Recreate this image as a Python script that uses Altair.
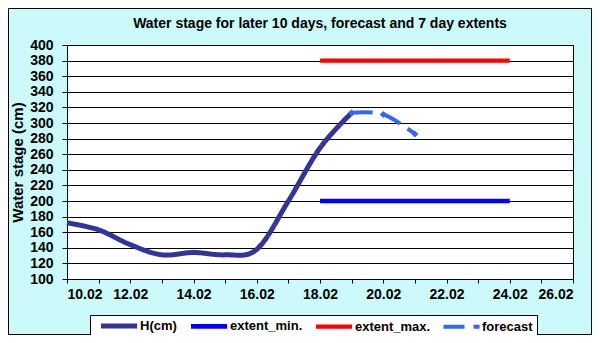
import altair as alt
import pandas as pd

# ---- data ----
series_names = ["H(cm)", "extent_min.", "extent_max.", "forecast"]
series_colors = ["#333399", "#0000FF", "#FF0000", "#3366FF"]

h_days = [10, 11, 12, 13, 14, 15, 16, 17, 18, 19]
h_vals = [172, 163, 144, 131, 134, 131, 138, 200, 268, 313]

ext_days = [18, 24]
ext_min_vals = [200, 200]
ext_max_vals = [380, 380]

fc_days = [19, 20, 21]
fc_vals = [313, 311, 286]

y_ticks = [100, 120, 140, 160, 180, 200, 220, 240, 260, 280, 300, 320, 340, 360, 380, 400]
x_ticks = [10, 11, 12, 13, 14, 15, 16, 17, 18, 19, 20, 21, 22, 23, 24, 25, 26]

FONT = "Liberation Sans"

rows = []
for d, v in zip(h_days, h_vals):
    rows.append({"day": d, "value": v, "series": "H(cm)"})
for d, v in zip(ext_days, ext_min_vals):
    rows.append({"day": d, "value": v, "series": "extent_min."})
for d, v in zip(ext_days, ext_max_vals):
    rows.append({"day": d, "value": v, "series": "extent_max."})
for d, v in zip(fc_days, fc_vals):
    rows.append({"day": d, "value": v, "series": "forecast"})
df = pd.DataFrame(rows)

x_enc = alt.X(
    "day:Q",
    scale=alt.Scale(domain=[10, 26], nice=False, zero=False),
    axis=alt.Axis(
        values=x_ticks,
        tickCount=17,
        labelExpr="datum.value % 2 == 0 ? datum.value + '.02' : ''",
        labelOverlap=False,
        title=None,
        grid=False,
        tickSize=4,
        labelPadding=4,
        tickColor="black",
        domainColor="black",
        labelFont=FONT,
        labelFontSize=14,
        labelFontWeight="bold",
        labelColor="black",
    ),
)
y_enc = alt.Y(
    "value:Q",
    scale=alt.Scale(domain=[100, 400], nice=False, zero=False),
    axis=alt.Axis(
        values=y_ticks,
        tickCount=16,
        labelOverlap=False,
        title="Water stage (cm)",
        titleFont=FONT,
        titleFontSize=15,
        titleFontWeight="bold",
        titleColor="black",
        titlePadding=4,
        grid=True,
        gridColor="black",
        gridOpacity=1,
        gridWidth=1,
        tickSize=5,
        tickColor="black",
        domainColor="black",
        labelPadding=9,
        labelFont=FONT,
        labelFontSize=14,
        labelFontWeight="bold",
        labelColor="black",
    ),
)

base = alt.Chart(df).encode(x=x_enc, y=y_enc)

lines = base.mark_line(interpolate="cardinal", tension=0, strokeCap="butt").encode(
    color=alt.Color(
        "series:N",
        scale=alt.Scale(domain=series_names, range=series_colors),
        legend=alt.Legend(
            title=None,
            orient="none",
            legendX=23,
            legendY=270,
            direction="horizontal",
            fillColor="white",
            strokeColor="black",
            padding=4,
            symbolType="M0,0H8",
            symbolSize=81,
            columnPadding=4,
            labelOffset=32,
            labelFont=FONT,
            labelFontSize=13,
            labelFontWeight="bold",
            labelColor="black",
        ),
    ),
    strokeDash=alt.StrokeDash(
        "series:N",
        scale=alt.Scale(domain=series_names, range=[[1, 0], [1, 0], [1, 0], [21, 9]]),
    ),
    strokeWidth=alt.StrokeWidth(
        "series:N",
        scale=alt.Scale(domain=series_names, range=[5, 4, 4, 3]),
    ),
    detail="series:N",
)

points = base.transform_filter(alt.datum.series == "forecast").mark_point(
    shape="diamond", filled=True, size=50, color="#3366FF", opacity=1
)

frame = alt.Chart(df.head(1)).mark_rect(fillOpacity=0, stroke="black", strokeWidth=1).encode(
    x=alt.value(-58.5), x2=alt.value(524.5), y=alt.value(-36.5), y2=alt.value(289.5)
)

chart = (
    alt.layer(lines, points, frame)
    .properties(
        width=506,
        height=234,
        autosize=alt.AutoSizeParams(type="none"),
        padding={"left": 59, "top": 37, "right": 19, "bottom": 56},
        title=alt.TitleParams(
            "Water stage for later 10 days, forecast and 7 day  extents",
            font=FONT,
            fontSize=14,
            fontWeight="bold",
            color="black",
            anchor="middle",
            frame="group",
            offset=0,
            dy=23,
        ),
        background="#ccfafa",
    )
    .configure_view(stroke="black", strokeWidth=1, fill="white")
)

chart.save("out.html", embed_options={"renderer": "svg", "actions": False})
